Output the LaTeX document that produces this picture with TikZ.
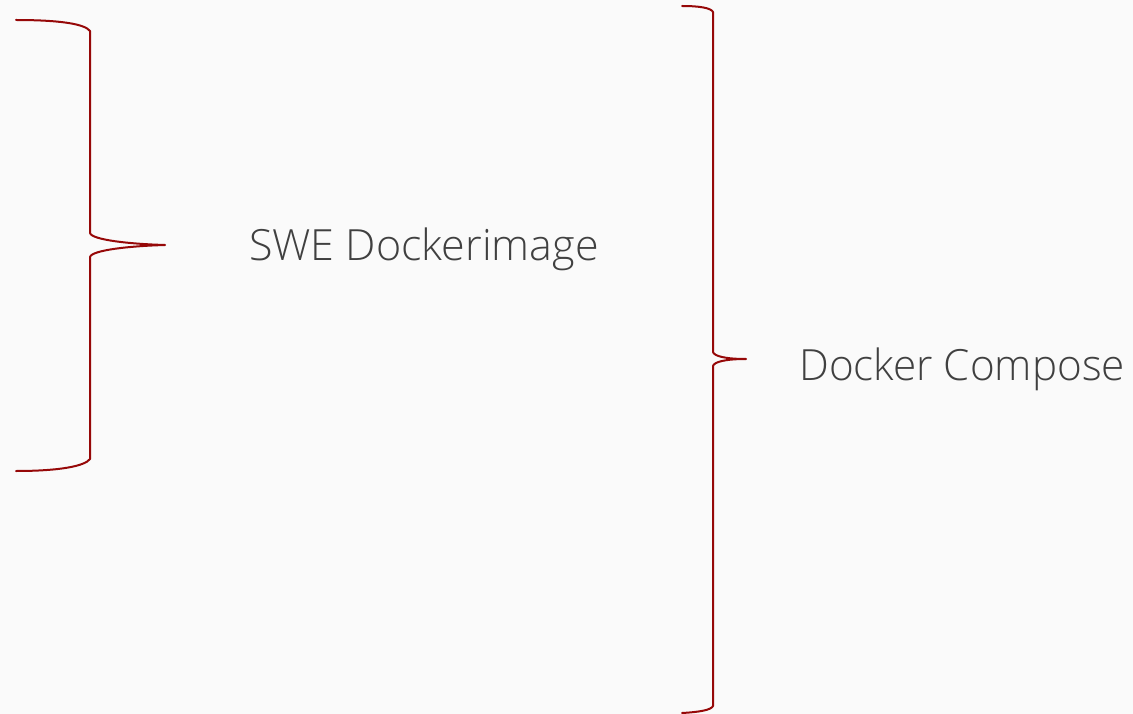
\documentclass[tikz,border=0pt]{standalone}
\usepackage{fontspec}
\setmainfont{Open Sans}[UprightFont=* Light]
\definecolor{bg}{HTML}{FAFAFA}
\definecolor{bracered}{RGB}{150,8,8}
\definecolor{txt}{HTML}{404040}
\begin{document}
\begin{tikzpicture}[x=1pt,y=-1pt,
  brace/.style={draw=bracered,line width=2pt,line cap=round,line join=round},
  label/.style={text=txt,font=\fontsize{43}{47}\selectfont,inner sep=0pt,anchor=base west}]
\fill[bg] (0,0) rectangle (1133,714);
\useasboundingbox (0,0) rectangle (1133,714);
\coordinate (a1) at (16,20);
\coordinate (a2) at (90,31);
\coordinate (a3) at (90,233);
\coordinate (atip) at (165,245);
\coordinate (a4) at (90,257);
\coordinate (a5) at (90,459);
\coordinate (a6) at (16,471);
\draw[brace] (a1) .. controls (60,20) and (85,24) .. (a2) -- (a3)
  .. controls (92,240) and (130,244) .. (atip)
  .. controls (130,246) and (92,250) .. (a4) -- (a5)
  .. controls (85,466) and (60,471) .. (a6);
\coordinate (b1) at (682,6);
\coordinate (b2) at (713,12);
\coordinate (b3) at (713,352);
\coordinate (btip) at (746,359);
\coordinate (b4) at (713,366);
\coordinate (b5) at (713,706);
\coordinate (b6) at (682,713);
\draw[brace] (b1) .. controls (700,6) and (711,8) .. (b2) -- (b3)
  .. controls (714,356) and (725,359) .. (btip)
  .. controls (725,359) and (714,362) .. (b4) -- (b5)
  .. controls (711,710) and (700,712) .. (b6);
\node[label] (swe) at (249,261) {SWE Dockerimage};
\node[label] (dc) at (799,380) {\scalebox{0.982}[1]{Docker Compose}};
\end{tikzpicture}
\end{document}
